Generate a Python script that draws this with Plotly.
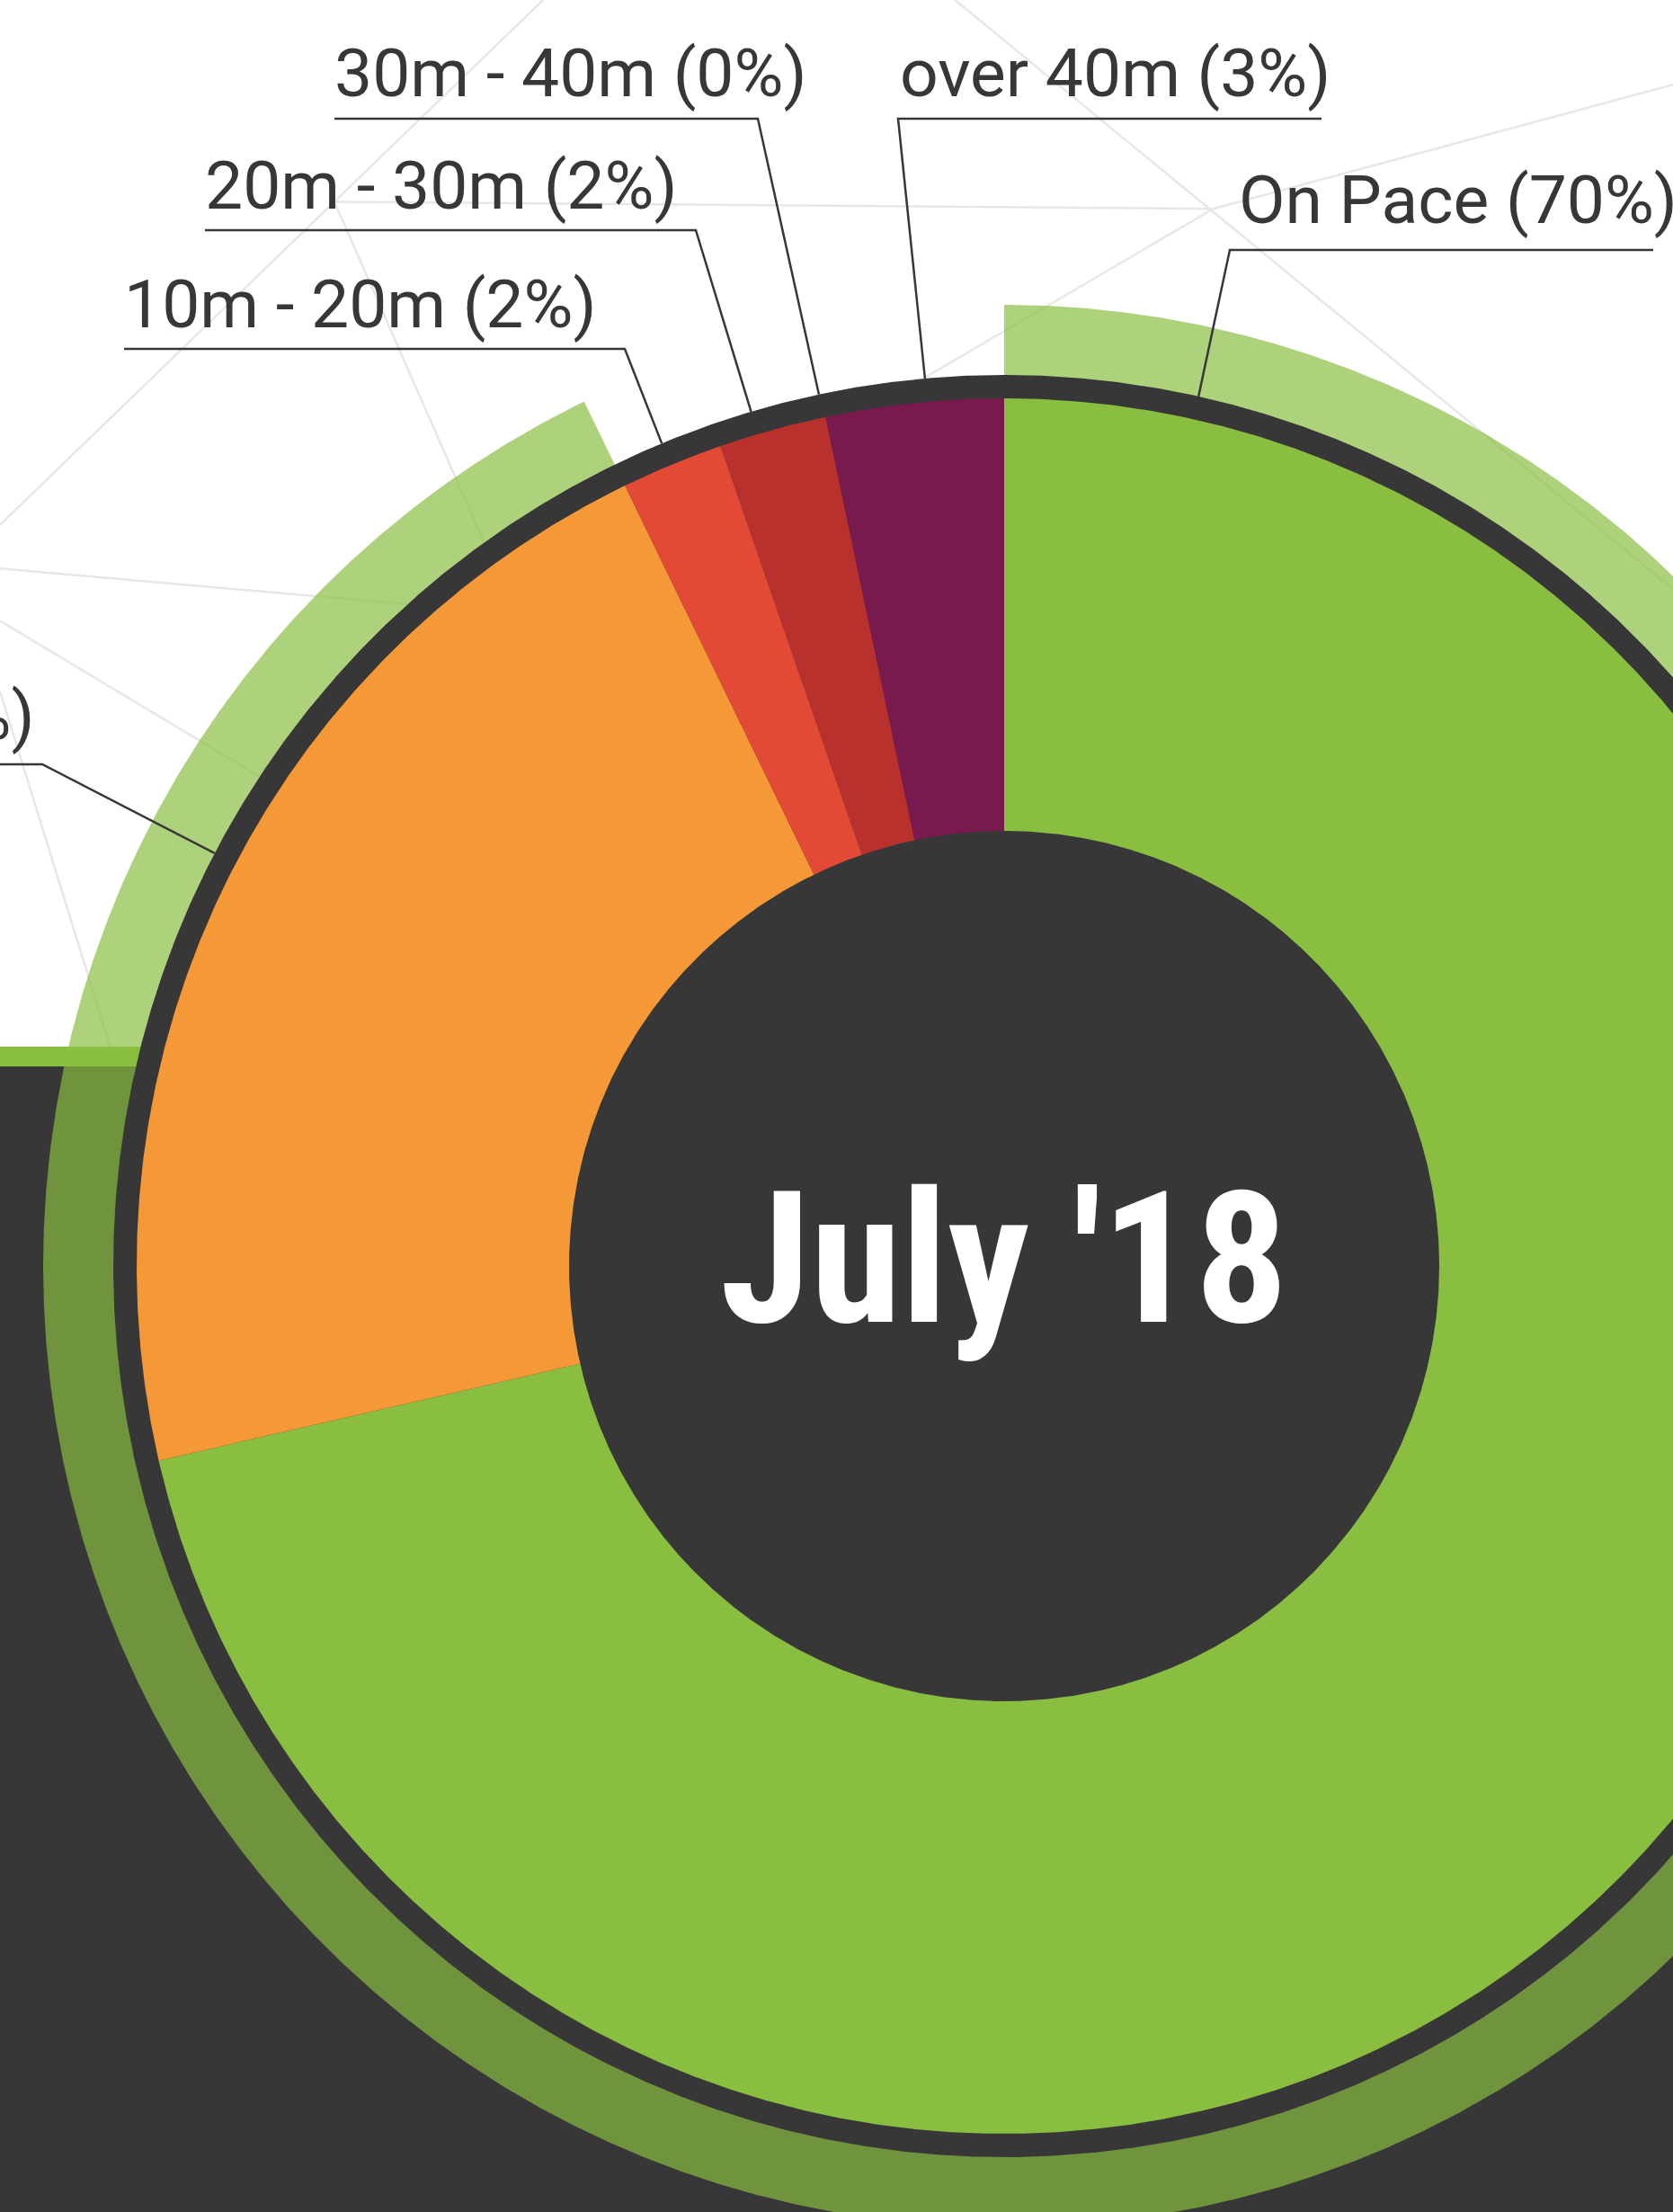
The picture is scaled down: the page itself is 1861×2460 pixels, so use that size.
import numpy as np
import plotly.graph_objects as go

# ---------------- data ----------------
categories = ["On Pace", "under 10m", "10m - 20m", "20m - 30m", "30m - 40m", "over 40m"]
shares = [71.4, 21.4, 1.9, 2.0, 0.0, 3.3]          # share of the circle
label_pct = ["70%", "21%", "2%", "2%", "0%", "3%"]  # percentages as printed on the labels
slice_colors = ["#8abe40", "#f59838", "#e24a35", "#b8312c", "#962a3e", "#781a4d"]
band_members = ["On Pace", "under 10m"]             # categories covered by the outer band
center_title = "July '18"

# ---------------- layout constants (pixels) ----------------
W, H = 1861, 2460
CX, CY = 1117, 1408
R_HOLE, R_PIE, R_RING, R_BAND = 484, 965, 991, 1069
DARK = "#373737"
BAND_COLOR = "rgba(138,190,64,0.69)"
GRID = "#e7e7e7"
LABEL_FONT = dict(family="Roboto, 'Open Sans', sans-serif", size=75, color=DARK)

# label placement: text x, anchor, baseline y, underline y, underline far x, underline near x, leader angle
label_layout = {
    "On Pace":   (1378, "left", 248, 278, 1839, 1368, 12.6),
    "under 10m": (39, "right", 822, 850, 0, 47, -62.4),
    "10m - 20m": (138, "left", 364, 388, 138, 695, -22.6),
    "20m - 30m": (228, "left", 232, 256, 228, 774, -16.5),
    "30m - 40m": (372, "left", 107, 132, 372, 843, -12.0),
    "over 40m":  (1001, "left", 107, 132, 1470, 999, -5.1),
}

# decorative mesh lines (shown-scale coords, converted below)
S = 1861 / 1186
mesh = [((0, 372), (385, 0)), ((0, 403), (310, 430)), ((0, 440), (200, 560)),
        ((0, 490), (90, 780)), ((237, 143), (860, 148)), ((237, 143), (350, 400)),
        ((677, 0), (1250, 470)), ((860, 148), (1186, 60)), ((655, 268), (860, 148))]


def polar_xy(theta_deg, r):
    t = np.radians(theta_deg)
    return CX + r * np.sin(t), CY - r * np.cos(t)


def wedge(t0, t1, r_out, r_in=0.0):
    n = max(int(abs(t1 - t0) / 0.2) + 2, 3)
    th = np.linspace(t0, t1, n)
    xo, yo = polar_xy(th, r_out)
    if r_in <= 0:
        xs = np.concatenate([[CX], xo, [CX]])
        ys = np.concatenate([[CY], yo, [CY]])
    else:
        xi, yi = polar_xy(th[::-1], r_in)
        xs = np.concatenate([xo, xi, xo[:1]])
        ys = np.concatenate([yo, yi, yo[:1]])
    return xs, ys


fig = go.Figure()

# slice angles from data
total = sum(shares)
cum = np.concatenate([[0.0], np.cumsum(shares)]) / total * 360.0

# outer band over the on-time categories
band_end = max(cum[categories.index(c) + 1] for c in band_members)
bx, by = wedge(0, band_end, R_BAND)
fig.add_trace(go.Scatter(x=bx, y=by, mode="lines", fill="toself", fillcolor=BAND_COLOR,
                         line=dict(width=0), hoverinfo="skip"))

# dark ring
rx, ry = wedge(0, 360, R_RING)
fig.add_trace(go.Scatter(x=rx, y=ry, mode="lines", fill="toself", fillcolor=DARK,
                         line=dict(width=0), hoverinfo="skip"))

# slices
for i, cat in enumerate(categories):
    if shares[i] <= 0:
        continue
    sx, sy = wedge(cum[i], cum[i + 1], R_PIE)
    fig.add_trace(go.Scatter(x=sx, y=sy, mode="lines", fill="toself",
                             fillcolor=slice_colors[i], line=dict(width=0),
                             name=cat, hoverinfo="name"))

# hole
hx, hy = wedge(0, 360, R_HOLE)
fig.add_trace(go.Scatter(x=hx, y=hy, mode="lines", fill="toself", fillcolor=DARK,
                         line=dict(width=0), hoverinfo="skip"))

# labels and leaders
annotations = []
for i, cat in enumerate(categories):
    tx, anchor, base, uly, farx, nearx, ang = label_layout[cat]
    annotations.append(dict(x=tx, y=base - 0.342 * LABEL_FONT["size"], xref="x", yref="y",
                            text=f"{cat} ({label_pct[i]})", showarrow=False,
                            xanchor=anchor, yanchor="middle", font=LABEL_FONT,
                            borderpad=0, borderwidth=0))
    ex, ey = polar_xy(ang, R_RING)
    fig.add_trace(go.Scatter(x=[farx, nearx, ex], y=[uly, uly, ey], mode="lines",
                             line=dict(color=DARK, width=2.5), hoverinfo="skip"))

annotations.append(dict(x=CX, y=1400, xref="x", yref="y", text=center_title, showarrow=False,
                        xanchor="center", yanchor="middle",
                        font=dict(family="'Roboto Condensed', 'DejaVu Sans Condensed', Roboto, sans-serif",
                                  size=205, color="white", weight="bold")))

shapes = []
for (a, b) in mesh:
    shapes.append(dict(type="line", xref="x", yref="y", x0=a[0] * S, y0=a[1] * S,
                       x1=b[0] * S, y1=b[1] * S, line=dict(color=GRID, width=2.5), layer="below"))
shapes.append(dict(type="rect", xref="x", yref="y", x0=0, x1=W, y0=1186, y1=H,
                   fillcolor=DARK, line=dict(width=0), layer="below"))
shapes.append(dict(type="rect", xref="x", yref="y", x0=0, x1=W, y0=1164, y1=1186,
                   fillcolor="#8abe3f", line=dict(width=0), layer="below"))

fig.update_layout(
    width=W, height=H, margin=dict(l=0, r=0, t=0, b=0),
    paper_bgcolor="white", plot_bgcolor="white", showlegend=False,
    xaxis=dict(range=[0, W], visible=False, fixedrange=True),
    yaxis=dict(range=[H, 0], visible=False, fixedrange=True),
    annotations=annotations, shapes=shapes,
)

fig.write_html("out.html", config={"displayModeBar": False},
               post_script="document.body.style.margin='0px';document.body.style.overflow='hidden';")
